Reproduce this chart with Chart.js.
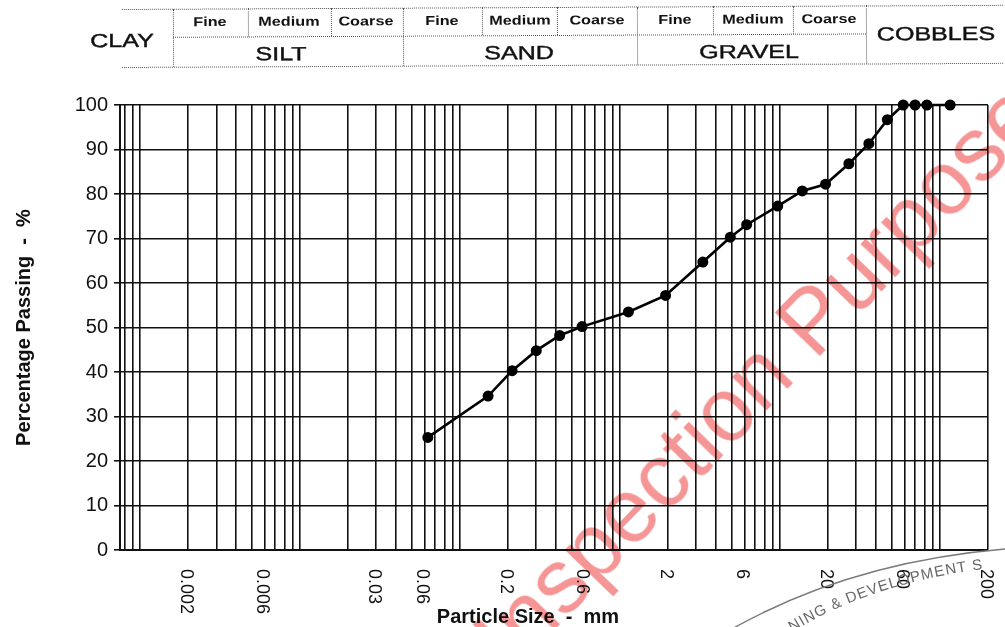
<!DOCTYPE html>
<html>
<head>
<meta charset="utf-8">
<title>Particle Size Distribution</title>
<script src="https://cdn.jsdelivr.net/npm/chart.js@4.4.1/dist/chart.umd.min.js"></script>
<style>
  html, body { margin: 0; padding: 0; background: #fff; }
  #wrap { position: relative; width: 1005px; height: 627px; overflow: hidden;
          font-family: "Liberation Sans", Arial, sans-serif; color: #111; }
  #grading { position: absolute; left: 0; top: 0; }
  #header { position: absolute; left: 0; top: 0; width: 1005px; height: 80px;
            transform: rotate(-0.27deg); transform-origin: 122px 40px; }
  .hl { position: absolute; height: 0; border-top: 1px dotted #555; }
  .vl { position: absolute; width: 0; border-left: 1px dotted #555; }
  .lbl { position: absolute; white-space: nowrap; transform: translate(-50%, -50%) scaleX(1.25); }
  .sub { font-size: 13px; font-weight: bold; }
  .big { font-size: 19px; -webkit-text-stroke: 0.4px #111; transform: translate(-50%, -50%) scaleX(1.32); }
  #overlay { position: absolute; left: 0; top: 0; pointer-events: none; }
  .wm { mix-blend-mode: multiply; }
</style>
</head>
<body>
<div id="wrap">
  <canvas id="grading" width="1005" height="627"></canvas>

  <div id="header">
    <div class="hl" style="left:122px; top:9px;  width:881px;"></div>
    <div class="hl" style="left:173px; top:37px; width:693px;"></div>
    <div class="hl" style="left:122px; top:67px; width:881px;"></div>
    <div class="vl" style="left:173px; top:9px; height:58px;"></div>
    <div class="vl" style="left:403px; top:9px; height:58px;"></div>
    <div class="vl" style="left:637px; top:9px; height:58px;"></div>
    <div class="vl" style="left:866px; top:9px; height:58px;"></div>
    <div class="vl" style="left:248px; top:9px; height:28px;"></div>
    <div class="vl" style="left:331px; top:9px; height:28px;"></div>
    <div class="vl" style="left:482px; top:9px; height:28px;"></div>
    <div class="vl" style="left:557px; top:9px; height:28px;"></div>
    <div class="vl" style="left:713px; top:9px; height:28px;"></div>
    <div class="vl" style="left:793px; top:9px; height:28px;"></div>

    <div class="lbl big" style="left:122px; top:41px;">CLAY</div>
    <div class="lbl sub" style="left:210px; top:22px;">Fine</div>
    <div class="lbl sub" style="left:289px; top:22px;">Medium</div>
    <div class="lbl sub" style="left:366px; top:22px;">Coarse</div>
    <div class="lbl big" style="left:281px; top:55px;">SILT</div>
    <div class="lbl sub" style="left:442px; top:22px;">Fine</div>
    <div class="lbl sub" style="left:520px; top:22px;">Medium</div>
    <div class="lbl sub" style="left:597px; top:22px;">Coarse</div>
    <div class="lbl big" style="left:519px; top:55px;">SAND</div>
    <div class="lbl sub" style="left:675px; top:22px;">Fine</div>
    <div class="lbl sub" style="left:753px; top:22px;">Medium</div>
    <div class="lbl sub" style="left:829px; top:22px;">Coarse</div>
    <div class="lbl big" style="left:749px; top:55px;">GRAVEL</div>
    <div class="lbl big" style="left:936px; top:38px;">COBBLES</div>
  </div>

  <svg id="overlay" width="1005" height="627">
    <defs>
      <path id="stampArc" d="M 792 632 Q 880 578 1010 566" />
    </defs>
    <path d="M 730 630 Q 850 562 1005 549" fill="none" stroke="#7a7a7a" stroke-width="1.4" />
    <text font-family="Liberation Sans, Arial, sans-serif" font-size="15" fill="#666" letter-spacing="1">
      <textPath href="#stampArc">NING &amp; DEVELOPMENT S</textPath>
    </text>
    <text class="wm" x="512" y="674" transform="rotate(-46 512 674)"
          font-family="Liberation Sans, Arial, sans-serif" font-size="90"
          fill="#f47a7a" opacity="0.8">Inspection Purposes</text>
  </svg>
</div>

<script>
// sieve sizes (mm) and cumulative percentage passing
const sieveSizes = [0.063, 0.15, 0.212, 0.3, 0.42, 0.58, 1.13, 1.93, 3.3, 4.9, 6.2,
                    9.7, 13.8, 19.3, 27, 36, 47, 59, 70, 83, 116];
const percentPassing = [25.3, 34.6, 40.3, 44.8, 48.2, 50.2, 53.5, 57.2, 64.7, 70.3, 73.1,
                        77.3, 80.7, 82.2, 86.8, 91.3, 96.7, 100, 100, 100, 100];

// labelled sizes along the bottom
const xTickValues = [0.002, 0.006, 0.03, 0.06, 0.2, 0.6, 2, 6, 20, 60, 200];
const xTickLabels = ['0.002', '0.006', '0.03', '0.06', '0.2', '0.6', '2', '6', '20', '60', '200'];

const X_MIN = 0.00075;
const X_MAX = 200;
const FONT = '"Liberation Sans", Arial, sans-serif';
const INK = '#111';

// log-cycle grid: 1..9 x 10^k inside the axis range
function logGridValues(min, max) {
    const out = [];
    for (let e = -4; e <= 3; e++) {
        for (let m = 1; m <= 9; m++) {
            const v = +(m * Math.pow(10, e)).toPrecision(3);
            if (v >= min && v <= max) out.push(v);
        }
    }
    return out;
}

const points = sieveSizes.map((d, i) => ({ x: d, y: percentPassing[i] }));

// rotated size labels and the axis caption underneath the plot
const bottomLabels = {
    id: 'bottomLabels',
    afterDraw(chart) {
        const { ctx, chartArea, scales: { x } } = chart;
        ctx.save();
        ctx.fillStyle = INK;
        ctx.font = '18px ' + FONT;
        ctx.textAlign = 'left';
        ctx.textBaseline = 'middle';
        xTickValues.forEach((v, i) => {
            const px = x.getPixelForValue(v);
            ctx.save();
            ctx.translate(px - 2, chartArea.bottom + 19);
            ctx.rotate(Math.PI / 2);
            ctx.fillText(xTickLabels[i], 0, 0);
            ctx.restore();
        });
        ctx.font = 'bold 20px ' + FONT;
        ctx.textAlign = 'center';
        ctx.textBaseline = 'alphabetic';
        ctx.fillText('Particle Size  -  mm', 528, 623);
        ctx.restore();
    }
};

const ctx = document.getElementById('grading').getContext('2d');
new Chart(ctx, {
    type: 'line',
    data: {
        datasets: [{
            label: 'Percentage passing',
            data: points,
            borderColor: '#000',
            borderWidth: 2.6,
            pointRadius: 4.2,
            pointBackgroundColor: '#000',
            pointBorderColor: '#000',
            tension: 0,
            clip: false
        }]
    },
    options: {
        responsive: false,
        animation: false,
        devicePixelRatio: 1,
        layout: { padding: { top: 105, right: 17, left: 0, bottom: 0 } },
        plugins: {
            legend: { display: false },
            tooltip: { enabled: false }
        },
        scales: {
            x: {
                type: 'logarithmic',
                min: X_MIN,
                max: X_MAX,
                afterBuildTicks(scale) {
                    scale.ticks = logGridValues(X_MIN, X_MAX).map(v => ({ value: v }));
                },
                afterFit(scale) { scale.height = 77; },
                ticks: { display: false },
                grid: { color: INK, lineWidth: 1.6, drawTicks: false },
                border: { color: INK, width: 2 }
            },
            y: {
                min: 0,
                max: 100,
                afterFit(scale) { scale.width = 120; },
                ticks: { stepSize: 10, color: INK, padding: 6, font: { family: FONT, size: 20 } },
                grid: { color: INK, lineWidth: 1.6, tickLength: 6 },
                border: { color: INK, width: 2 },
                title: {
                    display: true,
                    text: 'Percentage Passing  -  %',
                    color: INK,
                    padding: { top: 12, bottom: 0 },
                    font: { family: FONT, size: 20, weight: 'bold' }
                }
            }
        }
    },
    plugins: [bottomLabels]
});
</script>
</body>
</html>
